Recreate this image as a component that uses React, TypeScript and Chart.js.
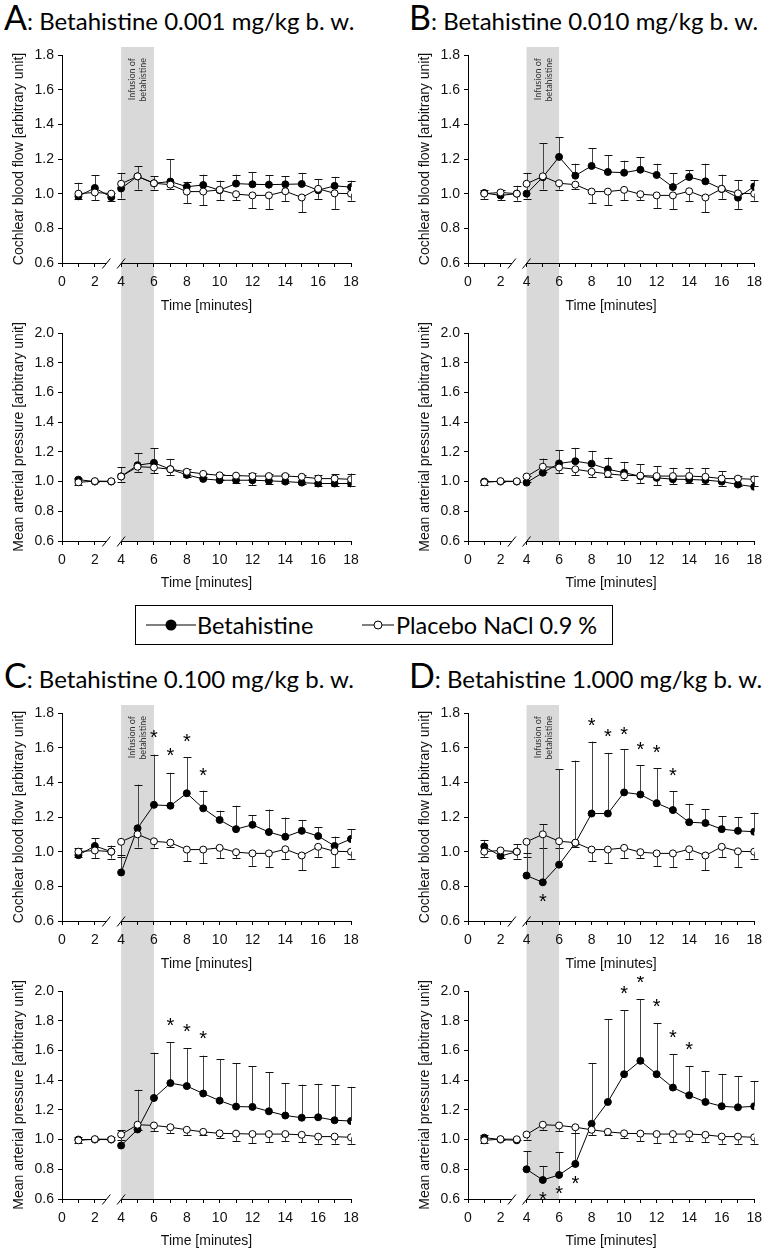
import React, { useEffect, useRef } from "react";
import { Chart, registerables } from "chart.js";

Chart.register(...registerables);

// ---------------- data ----------------
const TIME = [1, 2, 3, 4, 5, 6, 7, 8, 9, 10, 11, 12, 13, 14, 15, 16, 17, 18];
const X_TICK_TIMES = [0, 1, 2, 4, 5, 6, 7, 8, 9, 10, 11, 12, 13, 14, 15, 16, 17, 18];
const CBF_TICKS = [0.6, 0.8, 1.0, 1.2, 1.4, 1.6, 1.8];
const MAP_TICKS = [0.6, 0.8, 1.0, 1.2, 1.4, 1.6, 1.8, 2.0];
const INFUSION_START = 4;
const INFUSION_END = 6;
const BREAK_AT = 3.5; // the time axis is broken between minute 3 and 4
const BREAK_GAP = 0.4;
const BREAK_LINE_END = 2.7;

// placebo (same control group in every panel), error bars drawn downward
const placeboCBF = [1.0, 1.007, 1.0, 1.057, 1.1, 1.06, 1.052, 1.012, 1.012, 1.022, 0.997, 0.99, 0.99, 1.014, 0.978, 1.028, 1.002, 1.0];
const placeboCBFsd = [0.03, 0.045, 0.04, 0.085, 0.076, 0.036, 0.027, 0.067, 0.079, 0.06, 0.035, 0.072, 0.08, 0.057, 0.085, 0.058, 0.09, 0.04];
const placeboMAP = [0.995, 1.003, 1.002, 1.034, 1.1, 1.095, 1.083, 1.066, 1.052, 1.042, 1.04, 1.037, 1.037, 1.037, 1.032, 1.02, 1.02, 1.015];
const placeboMAPsd = [0.02, 0.005, 0.005, 0.034, 0.034, 0.037, 0.038, 0.036, 0.02, 0.034, 0.052, 0.06, 0.054, 0.049, 0.048, 0.047, 0.047, 0.043];

// betahistine, error bars drawn upward
const betaCBF_A = [0.985, 1.033, 0.98, 1.03, 1.1, 1.06, 1.07, 1.04, 1.05, 1.02, 1.058, 1.054, 1.052, 1.054, 1.056, 1.02, 1.045, 1.038];
const betaCBFsd_A = [0.078, 0.072, 0.026, 0.09, 0.058, 0.04, 0.13, 0.029, 0.06, 0.055, 0.052, 0.071, 0.053, 0.046, 0.064, 0.065, 0.052, 0.037];
const betaMAP_A = [1.013, 1.0, 1.0, 1.035, 1.11, 1.126, 1.083, 1.045, 1.018, 1.009, 1.009, 1.009, 1.005, 1.0, 0.993, 0.987, 0.987, 0.987];
const betaMAPsd_A = [0.012, 0, 0, 0.06, 0.08, 0.1, 0.07, 0.038, 0.042, 0.045, 0.038, 0.047, 0.045, 0.052, 0.054, 0.058, 0.063, 0.067];

const betaCBF_B = [1.004, 0.99, 1.0, 1.0, 1.095, 1.212, 1.104, 1.16, 1.125, 1.121, 1.138, 1.108, 1.038, 1.096, 1.071, 1.027, 0.977, 1.042];
const betaCBFsd_B = [0.019, 0.03, 0.046, 0.12, 0.195, 0.115, 0.069, 0.103, 0.096, 0.069, 0.072, 0.065, 0.081, 0.039, 0.102, 0.083, 0.1, 0.035];
const betaMAP_B = [1.0, 1.0, 1.0, 0.993, 1.06, 1.122, 1.137, 1.12, 1.083, 1.06, 1.036, 1.025, 1.016, 1.014, 1.01, 1.0, 0.98, 0.965];
const betaMAPsd_B = [0.01, 0, 0, 0.047, 0.095, 0.09, 0.09, 0.087, 0.079, 0.073, 0.079, 0.079, 0.077, 0.079, 0.078, 0.07, 0.06, 0.075];

const betaCBF_C = [0.98, 1.033, 1.0, 0.88, 1.135, 1.27, 1.265, 1.337, 1.25, 1.183, 1.13, 1.155, 1.113, 1.086, 1.12, 1.09, 1.033, 1.073];
const betaCBFsd_C = [0.04, 0.044, 0.035, 0.1, 0.252, 0.29, 0.19, 0.207, 0.102, 0.053, 0.135, 0.055, 0.13, 0.111, 0.063, 0.05, 0.054, 0.057];
const betaMAP_C = [1.0, 1.0, 1.0, 0.96, 1.068, 1.28, 1.38, 1.36, 1.31, 1.262, 1.222, 1.22, 1.19, 1.162, 1.147, 1.15, 1.13, 1.125];
const betaMAPsd_C = [0.015, 0, 0.02, 0.105, 0.268, 0.305, 0.275, 0.255, 0.255, 0.278, 0.293, 0.275, 0.265, 0.218, 0.223, 0.225, 0.238, 0.23];

const betaCBF_D = [1.03, 0.975, 1.0, 0.862, 0.823, 0.925, 1.05, 1.22, 1.22, 1.342, 1.33, 1.28, 1.24, 1.17, 1.165, 1.13, 1.12, 1.115];
const betaCBFsd_D = [0.038, 0, 0.043, 0.128, 0.335, 0.55, 0.475, 0.415, 0.35, 0.248, 0.17, 0.2, 0.11, 0.106, 0.08, 0.075, 0.08, 0.11];
const betaMAP_D = [1.013, 1.0, 0.995, 0.8, 0.728, 0.762, 0.836, 1.106, 1.253, 1.44, 1.53, 1.44, 1.35, 1.298, 1.253, 1.224, 1.217, 1.224];
const betaMAPsd_D = [0.017, 0, 0, 0.122, 0.095, 0.155, 0.207, 0.41, 0.557, 0.432, 0.416, 0.342, 0.225, 0.196, 0.21, 0.218, 0.209, 0.171];

// significance marks (*): time and height in axis units
const sigCBF_C_t = [6, 7, 8, 9];
const sigCBF_C_y = [1.683, 1.578, 1.664, 1.468];
const sigMAP_C_t = [7, 8, 9];
const sigMAP_C_y = [1.8, 1.76, 1.71];
const sigCBF_D_t = [5, 8, 9, 10, 11, 12, 13];
const sigCBF_D_y = [0.737, 1.756, 1.688, 1.7, 1.617, 1.596, 1.467];
const sigMAP_D_t = [5, 6, 7, 10, 11, 12, 13, 14];
const sigMAP_D_y = [0.627, 0.668, 0.735, 2.013, 2.088, 1.925, 1.716, 1.638];

const PANEL_LETTERS = ["A", "B", "C", "D"];
const PANEL_DOSES = ["0.001", "0.010", "0.100", "1.000"];

// ---------------- helpers ----------------
const axisPos = (t: number) => (t > BREAK_AT ? t - BREAK_GAP : t);
const axisTime = (p: number) => (p > BREAK_AT - BREAK_GAP / 2 ? p + BREAK_GAP : p);

const AXIS_FONT = '"Liberation Sans", Arial, sans-serif';
const TITLE_FONT = 'Lato, "Open Sans", sans-serif';
const BAND_COLOR = "#d9d9d9";

type PlotProps = {
  left: number;
  top: number;
  width: number;
  height: number;
  padL: number;
  padR: number;
  padT: number;
  xH: number;
  yTicks: number[];
  yTitle: string;
  upper: boolean;
  beta: number[];
  betaSd: number[];
  placebo: number[];
  placeboSd: number[];
  sigT: number[];
  sigY: number[];
};

function Plot(p: PlotProps) {
  const ref = useRef<HTMLCanvasElement | null>(null);
  useEffect(() => {
    const canvas = ref.current;
    if (!canvas) return;
    const skipBreak = (ctx: any) =>
      TIME[ctx.p0DataIndex] < BREAK_AT && TIME[ctx.p1DataIndex] > BREAK_AT ? "rgba(0,0,0,0)" : "#000";

    const decor = {
      id: "decor",
      beforeDraw(chart: any) {
        const { ctx, chartArea } = chart;
        const xs = chart.scales.x;
        const x0 = xs.getPixelForValue(axisPos(INFUSION_START));
        const x1 = xs.getPixelForValue(axisPos(INFUSION_END));
        const top = p.upper ? chartArea.top - 8 : 0;
        const bottom = p.upper ? chart.height : chartArea.bottom;
        ctx.save();
        ctx.fillStyle = BAND_COLOR;
        ctx.fillRect(x0, top, x1 - x0, bottom - top);
        if (p.upper) {
          const cx = (x0 + x1) / 2;
          ctx.translate(cx, chartArea.top + 3);
          ctx.rotate(-Math.PI / 2);
          ctx.fillStyle = "#333";
          ctx.font = `9px ${TITLE_FONT}`;
          ctx.textAlign = "right";
          ctx.textBaseline = "middle";
          ctx.fillText("Infusion of", 0, -5);
          ctx.fillText("betahistine", 0, 6);
        }
        ctx.restore();
      },
      beforeDatasetsDraw(chart: any) {
        const { ctx, chartArea } = chart;
        const xs = chart.scales.x;
        const ys = chart.scales.y;
        ctx.save();
        // broken time axis
        const y = Math.round(chartArea.bottom) + 0.5;
        const xa = xs.getPixelForValue(0);
        const xb = xs.getPixelForValue(axisPos(BREAK_LINE_END));
        const xc = xs.getPixelForValue(axisPos(INFUSION_START));
        const xd = xs.getPixelForValue(axisPos(18));
        ctx.strokeStyle = "#000";
        ctx.lineWidth = 1;
        ctx.beginPath();
        ctx.moveTo(xa, y);
        ctx.lineTo(xb, y);
        ctx.moveTo(xc, y);
        ctx.lineTo(xd, y);
        ctx.moveTo(xb - 4, y + 5);
        ctx.lineTo(xb + 4, y - 5);
        ctx.moveTo(xc - 4, y + 5);
        ctx.lineTo(xc + 4, y - 5);
        ctx.stroke();
        // error bars
        chart.data.datasets.forEach((ds: any, i: number) => {
          const meta = chart.getDatasetMeta(i);
          meta.data.forEach((pt: any, j: number) => {
            const v = ds.data[j].y;
            const e = ds.errUp ? ds.errUp[j] : ds.errDown ? -ds.errDown[j] : 0;
            if (!e) return;
            const py = ys.getPixelForValue(v);
            const ey = ys.getPixelForValue(v + e);
            const px = Math.round(pt.x) + 0.5;
            ctx.strokeStyle = "#444";
            ctx.beginPath();
            ctx.moveTo(px, py);
            ctx.lineTo(px, ey);
            ctx.stroke();
            ctx.strokeStyle = "#111";
            ctx.beginPath();
            ctx.moveTo(px - 4, Math.round(ey) + 0.5);
            ctx.lineTo(px + 4, Math.round(ey) + 0.5);
            ctx.stroke();
          });
        });
        ctx.restore();
      },
      afterDatasetsDraw(chart: any) {
        const { ctx } = chart;
        const xs = chart.scales.x;
        const ys = chart.scales.y;
        ctx.save();
        ctx.fillStyle = "#000";
        ctx.font = `20px ${AXIS_FONT}`;
        ctx.textAlign = "center";
        ctx.textBaseline = "alphabetic";
        p.sigT.forEach((t, k) => {
          const x = xs.getPixelForValue(axisPos(t));
          const y = ys.getPixelForValue(p.sigY[k]);
          ctx.fillText("*", x, y + 11);
        });
        ctx.restore();
      },
    };

    const pointData = (vals: number[]) => TIME.map((t, i) => ({ x: axisPos(t), y: vals[i] }));

    const chart = new Chart(canvas, {
      type: "line",
      data: {
        datasets: [
          {
            label: "Placebo NaCl 0.9 %",
            data: pointData(p.placebo),
            errDown: p.placeboSd,
            borderColor: "#000",
            borderWidth: 1,
            pointRadius: 3.5,
            pointBackgroundColor: "#fff",
            pointBorderColor: "#000",
            pointBorderWidth: 1,
            segment: { borderColor: skipBreak },
          } as any,
          {
            label: "Betahistine",
            data: pointData(p.beta),
            errUp: p.betaSd,
            borderColor: "#000",
            borderWidth: 1,
            pointRadius: 3.5,
            pointBackgroundColor: "#000",
            pointBorderColor: "#000",
            pointBorderWidth: 1,
            segment: { borderColor: skipBreak },
          } as any,
        ],
      },
      options: {
        animation: false,
        responsive: false,
        maintainAspectRatio: false,
        layout: { padding: { left: p.padL, right: p.padR, top: p.padT, bottom: 0 } },
        plugins: { legend: { display: false }, tooltip: { enabled: false } },
        scales: {
          x: {
            type: "linear",
            min: 0,
            max: axisPos(18),
            afterBuildTicks: (s: any) => {
              s.ticks = X_TICK_TIMES.map((t) => ({ value: axisPos(t) }));
            },
            afterFit: (s: any) => {
              s.height = p.xH;
            },
            ticks: {
              autoSkip: false,
              maxRotation: 0,
              padding: 7,
              color: "#111",
              font: { family: AXIS_FONT, size: 14 },
              callback: (v: any) => {
                const t = Math.round(axisTime(Number(v)));
                return t % 2 === 0 ? String(t) : "";
              },
            },
            grid: { display: true, drawOnChartArea: false, drawTicks: true, tickLength: 4, color: "#000" },
            border: { display: false },
            title: {
              display: true,
              text: "Time [minutes]",
              color: "#111",
              font: { family: AXIS_FONT, size: 14 },
              padding: { top: 0, bottom: 3 },
            },
          },
          y: {
            min: p.yTicks[0],
            max: p.yTicks[p.yTicks.length - 1],
            afterBuildTicks: (s: any) => {
              s.ticks = p.yTicks.map((v) => ({ value: v }));
            },
            afterFit: (s: any) => {
              s.width = 62;
            },
            ticks: {
              padding: 4,
              color: "#111",
              font: { family: AXIS_FONT, size: 14 },
              callback: (v: any) => Number(v).toFixed(1),
            },
            grid: { display: true, drawOnChartArea: false, drawTicks: true, tickLength: 4, color: "#000" },
            border: { display: true, color: "#000", width: 1 },
            title: {
              display: true,
              text: p.yTitle,
              color: "#111",
              font: { family: AXIS_FONT, size: 14 },
              padding: { top: 11, bottom: 0 },
            },
          },
        },
      } as any,
      plugins: [decor],
    });
    return () => chart.destroy();
  }, []);
  return (
    <canvas
      ref={ref}
      width={p.width}
      height={p.height}
      style={{ position: "absolute", left: p.left, top: p.top, width: p.width, height: p.height }}
    />
  );
}

const COLS = [
  { x: 0, w: 384, padL: 0, padR: 33, titleX: 4 },
  { x: 384, w: 385, padL: 22, padR: 12, titleX: 409 },
];
const ROWS = [38, 696];

const PANEL_DATA = [
  { cbf: betaCBF_A, cbfSd: betaCBFsd_A, map: betaMAP_A, mapSd: betaMAPsd_A, sc: [[], []], sm: [[], []] },
  { cbf: betaCBF_B, cbfSd: betaCBFsd_B, map: betaMAP_B, mapSd: betaMAPsd_B, sc: [[], []], sm: [[], []] },
  { cbf: betaCBF_C, cbfSd: betaCBFsd_C, map: betaMAP_C, mapSd: betaMAPsd_C, sc: [sigCBF_C_t, sigCBF_C_y], sm: [sigMAP_C_t, sigMAP_C_y] },
  { cbf: betaCBF_D, cbfSd: betaCBFsd_D, map: betaMAP_D, mapSd: betaMAPsd_D, sc: [sigCBF_D_t, sigCBF_D_y], sm: [sigMAP_D_t, sigMAP_D_y] },
];

function Panel({ idx }: { idx: number }) {
  const col = COLS[idx % 2];
  const rowY = ROWS[Math.floor(idx / 2)];
  const d = PANEL_DATA[idx];
  return (
    <>
      <div
        style={{
          position: "absolute",
          left: col.titleX,
          top: rowY - 38.5,
          fontFamily: TITLE_FONT,
          whiteSpace: "nowrap",
          lineHeight: 1,
          color: "#000",
        }}
      >
        <span style={{ fontSize: 34 }}>{PANEL_LETTERS[idx]}</span>
        <span style={{ fontSize: 24 }}>: Betahistine {PANEL_DOSES[idx]} mg/kg b. w.</span>
      </div>
      <Plot
        left={col.x}
        top={rowY}
        width={col.w}
        height={280}
        padL={col.padL}
        padR={col.padR}
        padT={17}
        xH={55}
        yTicks={CBF_TICKS}
        yTitle="Cochlear blood flow [arbitrary unit]"
        upper={true}
        beta={d.cbf}
        betaSd={d.cbfSd}
        placebo={placeboCBF}
        placeboSd={placeboCBFsd}
        sigT={d.sc[0]}
        sigY={d.sc[1]}
      />
      <Plot
        left={col.x}
        top={rowY + 280}
        width={col.w}
        height={277}
        padL={col.padL}
        padR={col.padR}
        padT={15}
        xH={54}
        yTicks={MAP_TICKS}
        yTitle="Mean arterial pressure [arbitrary unit]"
        upper={false}
        beta={d.map}
        betaSd={d.mapSd}
        placebo={placeboMAP}
        placeboSd={placeboMAPsd}
        sigT={d.sm[0]}
        sigY={d.sm[1]}
      />
    </>
  );
}

function Legend() {
  const textStyle: React.CSSProperties = {
    position: "absolute",
    top: 0,
    height: 38,
    lineHeight: "38px",
    fontFamily: TITLE_FONT,
    fontSize: 23.5,
    color: "#000",
    whiteSpace: "nowrap",
  };
  return (
    <div
      style={{
        position: "absolute",
        left: 135,
        top: 605,
        width: 478,
        height: 40,
        border: "1px solid #000",
        boxSizing: "border-box",
        background: "#fff",
      }}
    >
      <svg style={{ position: "absolute", left: 10, top: 12 }} width={50} height={14}>
        <line x1={0} y1={7} x2={50} y2={7} stroke="#000" strokeWidth={1} />
        <circle cx={25} cy={7} r={5.5} fill="#000" />
      </svg>
      <div style={{ ...textStyle, left: 61 }}>Betahistine</div>
      <svg style={{ position: "absolute", left: 226, top: 12 }} width={32} height={14}>
        <line x1={0} y1={7} x2={32} y2={7} stroke="#000" strokeWidth={1} />
        <circle cx={16} cy={7} r={4} fill="#fff" stroke="#000" strokeWidth={1} />
      </svg>
      <div style={{ ...textStyle, left: 260 }}>Placebo NaCl 0.9 %</div>
    </div>
  );
}

export default function App() {
  return (
    <div style={{ position: "absolute", left: 0, top: 0, width: 769, height: 1253, background: "#fff", overflow: "hidden" }}>
      {[0, 1, 2, 3].map((i) => (
        <Panel key={i} idx={i} />
      ))}
      <Legend />
    </div>
  );
}
